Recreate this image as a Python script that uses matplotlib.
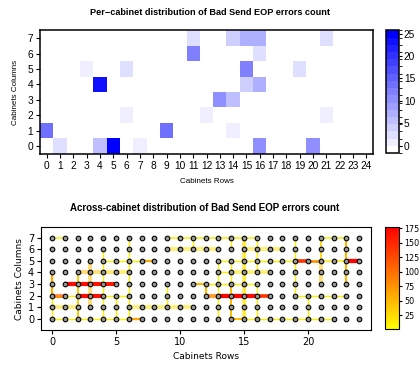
import numpy as np
import matplotlib
matplotlib.use("Agg")
import matplotlib.pyplot as plt
from matplotlib.colors import LinearSegmentedColormap, BoundaryNorm, Normalize
from matplotlib.collections import LineCollection

# ---------------- data: per-cabinet counts (row x, column y, count) ----------------
cab_x = [1, 4, 5, 7, 16, 20, 0, 9, 14, 6, 12, 21, 13, 14, 4, 15, 16, 3, 6, 15, 19,
         11, 16, 11, 14, 15, 16, 21]
cab_y = [0, 0, 0, 0, 0, 0, 1, 1, 1, 2, 2, 2, 3, 3, 4, 4, 4, 5, 5, 5, 5,
         6, 6, 7, 7, 7, 7, 7]
cab_n = [3, 5, 25, 1, 10, 11, 14, 14, 1, 1, 1, 1, 11, 6, 23, 4, 8, 1, 2, 12, 2,
         12, 2, 2, 4, 7, 7, 2]

# ---------------- data: links between neighbouring cabinets ----------------
# horizontal runs: (column, first row, counts of consecutive links)
h_solid = [(7, 0, [15]), (7, 9, [15, 15, 15, 15, 15, 15, 15]), (7, 21, [15, 15]),
           (5, 4, [12, 12, 12, 60]), (5, 13, [12, 12, 12, 12, 12, 12]),
           (5, 19, [140, 80, 15, 15, 175]),
           (4, 13, [12]),
           (3, 1, [170, 170, 165, 160]), (3, 11, [50, 12, 12, 12, 12]),
           (2, 0, [80, 12, 170, 165, 12, 12]), (2, 12, [60, 175, 175, 170, 140]),
           (2, 19, [12, 12, 12, 12]),
           (0, 0, [12, 12, 12, 12, 12, 12, 60]), (0, 14, [45, 12, 12, 12, 12, 12, 12, 12])]
h_pale = [(6, 9, [20, 20, 20, 20]), (6, 15, [20, 20, 20]),
          (4, 2, [50, 40, 30, 20]), (4, 14, [20, 20, 20]),
          (2, 0, [150]), (2, 12, [140]),
          (1, 0, [25, 25]), (1, 6, [20, 20, 20, 20, 20])]
# vertical runs: (row, first column, counts of consecutive links)
v_solid = [(0, 0, [12, 12, 60, 60]), (2, 0, [40, 40, 40, 40]), (4, 0, [10, 10, 10, 10, 10, 10]),
           (5, 0, [10, 10]), (6, 0, [12, 12, 12, 12, 12, 12, 12]), (9, 1, [12, 12]),
           (11, 6, [12]), (12, 2, [50]), (13, 0, [10, 10, 10, 10, 10]),
           (14, 0, [45, 45, 45]), (14, 3, [12, 12]), (14, 6, [12]),
           (15, 0, [10, 10, 10, 10, 10, 10, 10]), (16, 0, [12, 12, 12]), (16, 4, [12, 12, 12]),
           (19, 2, [10, 10, 10, 10, 10]), (20, 0, [12, 12]), (21, 5, [30, 30]),
           (23, 3, [50, 50, 50, 50])]
v_pale = [(3, 1, [45, 45, 45, 45]), (15, 0, [25, 25, 25, 25, 25, 25, 25]), (21, 3, [40, 40])]

n_rows, n_cols = 25, 8


def segments(runs, horizontal):
    segs, vals = [], []
    for a, b, counts in runs:
        for i, c in enumerate(counts):
            if horizontal:
                segs.append([(b + i, a), (b + i + 1, a)])
            else:
                segs.append([(a, b + i), (a, b + i + 1)])
            vals.append(c)
    return segs, vals


def main():
    fig = plt.figure(figsize=(4.2, 3.66), dpi=100)
    sans = ['Liberation Sans', 'DejaVu Sans']

    # ---------------------------- top heatmap ----------------------------
    ax = fig.add_axes([0.0952, 0.580, 0.793, 0.337])
    grid = np.zeros((n_cols, n_rows))
    for x, y, n in zip(cab_x, cab_y, cab_n):
        grid[y, x] = n
    grid = np.ma.masked_equal(grid, 0)

    levels = np.linspace(-1.6, 25.7, 18)
    blues = LinearSegmentedColormap.from_list('wb', ['#ffffff', '#0000ff'], N=len(levels) - 1)
    norm = BoundaryNorm(levels, blues.N)
    mesh = ax.pcolormesh(np.arange(n_rows + 1) - 0.5, np.arange(n_cols + 1) - 0.5, grid,
                         cmap=blues, norm=norm)
    ax.set_xlim(-0.5, 24.5)
    ax.set_ylim(-0.5, 7.5)
    ax.set_xticks(range(n_rows))
    ax.set_yticks(range(n_cols))
    ax.set_xticklabels([str(i) for i in range(n_rows)], family=sans, fontsize=7.3)
    ax.set_yticklabels([str(i) for i in range(n_cols)], family=sans, fontsize=7.3)
    ax.tick_params(length=3, width=0.8, pad=2)
    for s in ax.spines.values():
        s.set_linewidth(1.1)
    ax.set_xlabel('Cabinets Rows', family=sans, fontsize=5.8, labelpad=5)
    ax.set_ylabel('Cabinets Columns', family=sans, fontsize=5.8, labelpad=6)

    cax = fig.add_axes([0.918, 0.582, 0.032, 0.335])
    cb = fig.colorbar(mesh, cax=cax, ticks=[0, 5, 10, 15, 20, 25])
    cb.ax.tick_params(length=2.5, width=0.8, pad=1)
    cb.ax.set_yticklabels(['0', '5', '10', '15', '20', '25'], family=sans, fontsize=7.3)
    cb.outline.set_linewidth(1.1)

    fig.text(0.5, 0.966, 'Per\u2212cabinet distribution of Bad Send EOP errors count',
             ha='center', va='center', family=sans, fontsize=6.6, fontweight='bold')

    # ---------------------------- bottom graph ----------------------------
    ax2 = fig.add_axes([0.0976, 0.0984, 0.785, 0.281])
    lnorm = Normalize(1, 177)
    cmap = plt.cm.autumn_r

    segs, vals = segments(h_pale, True)
    s2, v2 = segments(v_pale, False)
    segs += s2
    vals += v2
    lc = LineCollection(segs, colors=cmap(lnorm(vals)), linewidths=3.0, alpha=0.5,
                        capstyle='butt', zorder=1)
    ax2.add_collection(lc)

    segs, vals = segments(h_solid, True)
    s2, v2 = segments(v_solid, False)
    segs += s2
    vals += v2
    widths = [0.9 + 2.2 * v / 177.0 for v in vals]
    lc = LineCollection(segs, colors=cmap(lnorm(vals)), linewidths=widths,
                        capstyle='butt', zorder=2)
    ax2.add_collection(lc)

    gx, gy = np.meshgrid(np.arange(n_rows), np.arange(n_cols))
    ax2.scatter(gx.ravel(), gy.ravel(), s=11, c='#999999', edgecolors='black',
                linewidths=0.8, zorder=3)
    ax2.set_xlim(-0.86, 24.9)
    ax2.set_ylim(-0.95, 7.9)
    ax2.set_xticks([0, 5, 10, 15, 20])
    ax2.set_yticks(range(n_cols))
    ax2.tick_params(labelsize=7, length=3, width=0.8, pad=2)
    ax2.set_xlabel('Cabinets Rows', fontsize=6.5, labelpad=4)
    ax2.set_ylabel('Cabinets Columns', fontsize=6.5, labelpad=3)

    sm = plt.cm.ScalarMappable(norm=lnorm, cmap=cmap)
    cax2 = fig.add_axes([0.917, 0.100, 0.033, 0.279])
    cb2 = fig.colorbar(sm, cax=cax2, ticks=[25, 50, 75, 100, 125, 150, 175])
    cb2.ax.tick_params(labelsize=5.8, length=2.5, width=0.8, pad=1.5)

    fig.text(0.488, 0.432, 'Across-cabinet distribution of Bad Send EOP errors count',
             ha='center', va='center', family=sans, fontsize=7, fontweight='bold')

    fig.savefig('out.png', dpi=100)
    plt.close(fig)


if __name__ == "__main__":
    main()
